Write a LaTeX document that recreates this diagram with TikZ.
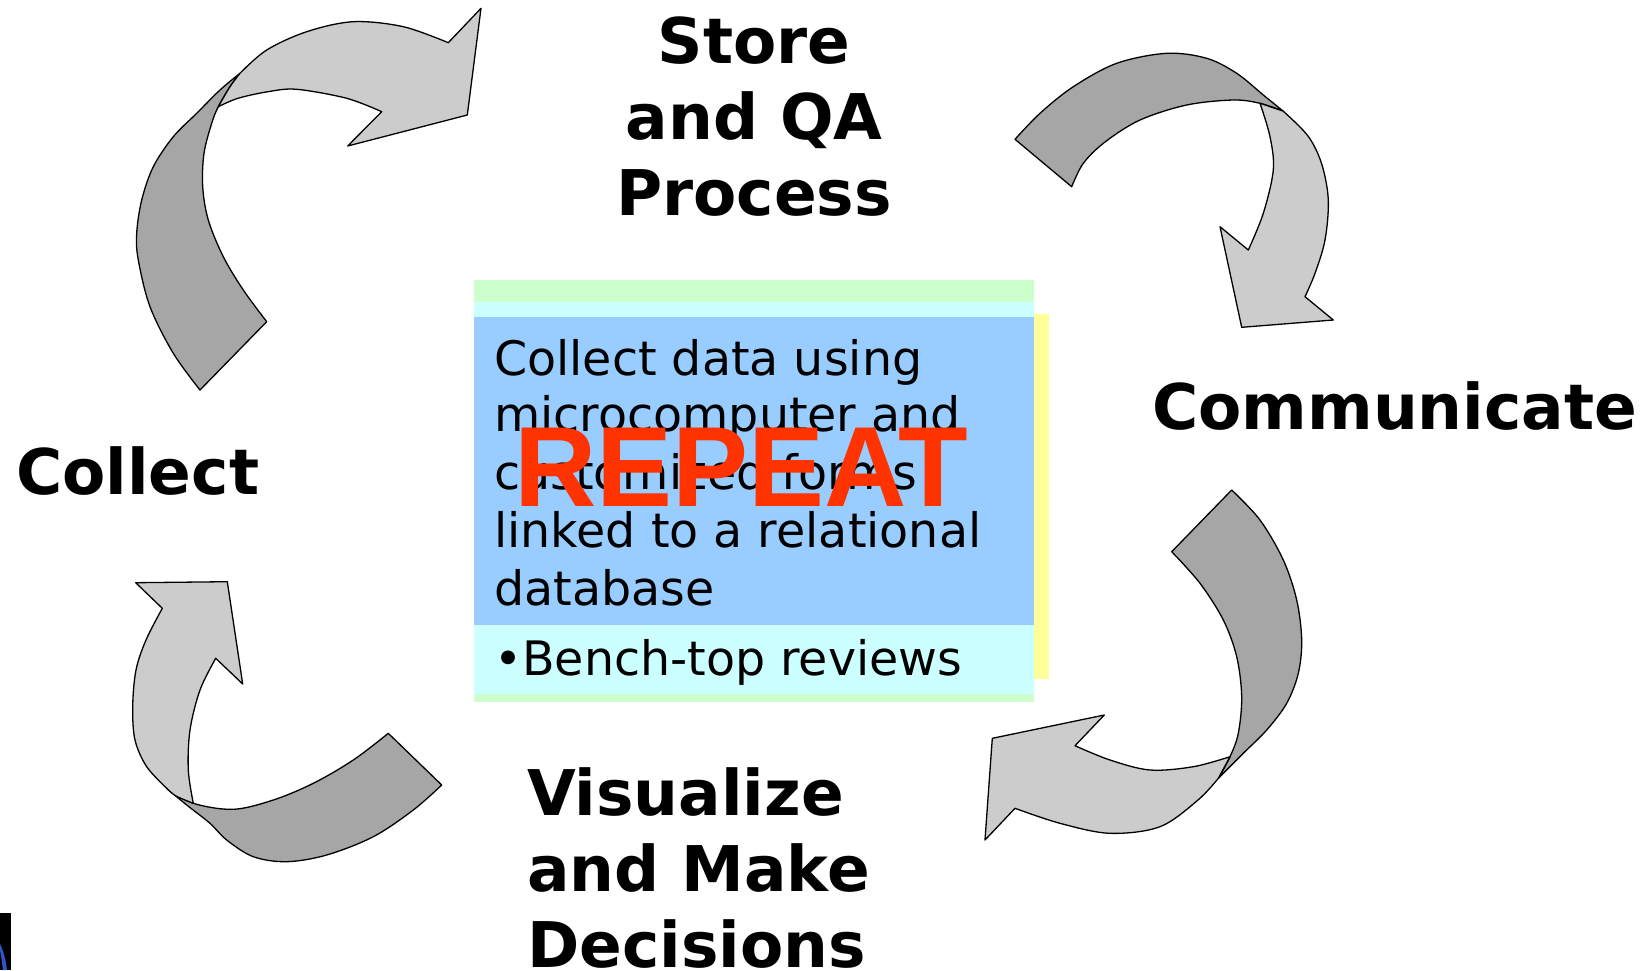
\documentclass[tikz,border=0pt]{standalone}
\usepackage{fontspec}
\newfontfamily\dejavu{DejaVu Sans}
\newfontfamily\libsans{Liberation Sans}
\definecolor{arrowdark}{HTML}{A6A6A6}
\definecolor{arrowlight}{HTML}{CCCCCC}
\definecolor{bandgreen}{HTML}{CCFFCC}
\definecolor{bandcyan}{HTML}{CCFFFF}
\definecolor{boxblue}{HTML}{99CCFF}
\definecolor{shadowyellow}{HTML}{FFFF99}
\definecolor{repeatred}{HTML}{FF3300}
\definecolor{logoblue}{HTML}{3355CC}
\begin{document}
\begin{tikzpicture}[x=1pt,y=-1pt,
  darkpart/.style={fill=arrowdark,draw=black,line width=1.3pt,line join=round},
  lightpart/.style={fill=arrowlight,draw=black,line width=1.3pt,line join=round},
  steplabel/.style={font=\dejavu\bfseries\fontsize{63}{76}\selectfont,inner sep=0pt},
  boxtext/.style={font=\dejavu\fontsize{47.5}{57.5}\selectfont,inner sep=0pt,anchor=base west},
  sm/.style={smooth,tension=0.55}]
\useasboundingbox (0,0) rectangle (1642,970);
\fill[white] (0,0) rectangle (1642,970);

% ---- central box ----
\fill[shadowyellow] (1034,314) rectangle (1049,679);
\fill[bandgreen] (474,280) rectangle (1034,302);
\fill[bandcyan] (474,302) rectangle (1034,317);
\fill[boxblue] (474,317) rectangle (1034,625);
\fill[bandcyan] (474,625) rectangle (1034,694);
\fill[bandgreen] (474,694) rectangle (1034,702);

\node[boxtext] (t1) at (494,375) {Collect data using};
\node[boxtext] (t2) at (494,431) {microcomputer and};
\node[boxtext] (t3) at (494,489) {customized forms};
\node[boxtext] (t4) at (494,547) {linked to a relational};
\node[boxtext] (t5) at (494,605) {database};
\node[boxtext] (t6) at (494,675) {•Bench-top reviews};

\node[font=\libsans\bfseries\fontsize{114}{114}\selectfont,text=repeatred,inner sep=0pt,anchor=base] (repeat) at (741,506) {REPEAT};

% ---- labels ----
\node[steplabel,anchor=base] (store1) at (754,63) {Store};
\node[steplabel,anchor=base] (store2) at (754,139) {and QA};
\node[steplabel,anchor=base] (store3) at (754,215) {Process};
\node[steplabel,anchor=base west] (comm) at (1152,429) {Communicate};
\node[steplabel,anchor=base west] (coll) at (16,494) {Collect};
\node[steplabel,anchor=base west] (vis1) at (527,815) {Visualize};
\node[steplabel,anchor=base west] (vis2) at (527,891) {and Make};
\node[steplabel,anchor=base west] (vis3) at (527,967) {Decisions};

% ---- arrow 1: Collect -> Store ----
\path[darkpart] plot[sm] coordinates {(200,390) (173.3,353.3) (150,306.7) (138.3,260) (136.7,233.3) (141.7,200) (153.3,166.7) (173.3,136.7) (196.7,113.3) (220,90) (240,73.3)}
  -- plot[sm] coordinates {(240,73.3) (230,86.7) (218.3,106.7) (211.7,123.3) (204,153.3) (202.7,186.7) (208.3,220) (223.3,256.7) (243.3,290) (266.7,321.7)}
  -- cycle;
\path[lightpart] plot[sm] coordinates {(240,73.3) (266.7,50) (306.7,31.7) (353.3,21.7) (403.3,26.7) (448.3,42.7)}
  -- (481,8.3) -- (467.3,115) -- (347.7,146) -- (381.7,111.7)
  -- plot[sm] coordinates {(381.7,111.7) (346.7,98.3) (296.7,89.3) (268,91.7) (238,98.3) (218.3,106.7)}
  -- plot[sm] coordinates {(218.3,106.7) (230,86.7) (240,73.3)}
  -- cycle;

% ---- arrow 2: Store -> Communicate ----
\path[darkpart] plot[sm] coordinates {(1015,139.3) (1040,113.3) (1073.3,86.7) (1116.7,63.3) (1166.7,53.3) (1206.7,58.3) (1236.7,73.3) (1263.3,95) (1283,111)}
  -- plot[sm] coordinates {(1283,111) (1260,103.3) (1233.3,100) (1186.7,105) (1140,120) (1105,142) (1083.3,163.3) (1071.7,186.7)}
  -- cycle;
\path[lightpart] plot[sm] coordinates {(1283,111) (1308,136) (1321.7,164) (1328.3,200) (1325,240) (1315,273.3) (1305,296.7)}
  -- (1333.3,320) -- (1241.7,327.3) -- (1220,226.7) -- (1248.3,250)
  -- plot[sm] coordinates {(1248.3,250) (1263.3,213.3) (1273.3,170) (1270,136.7) (1260,103.3)}
  -- (1283,111) -- cycle;

% ---- arrow 3: Communicate -> Visualize ----
\path[darkpart] plot[sm] coordinates {(1231.7,490) (1260,520) (1283.3,560) (1296.7,600) (1301.7,640) (1298.3,673.3) (1286.7,703.3) (1266.7,730) (1243.3,753.3) (1218.3,778.3)}
  -- plot[sm] coordinates {(1218.3,778.3) (1230,756.7) (1238.3,733.3) (1241.7,696.7) (1236.7,656.7) (1223.3,620) (1200,583.3) (1171.7,551.7)}
  -- cycle;
\path[lightpart] plot[sm] coordinates {(1218.3,778.3) (1198,800) (1160,826.7) (1110,833.3) (1060,823.3) (1015,808.3)}
  -- (985,840) -- (992.3,738.3) -- (1104.3,715) -- (1075,745.7)
  -- plot[sm] coordinates {(1075,745.7) (1110,760) (1150,770) (1193.3,766.7) (1230,756.7)}
  -- (1218.3,778.3) -- cycle;

% ---- arrow 4: Visualize -> Collect ----
\path[darkpart] plot[sm] coordinates {(388.3,733.3) (353.3,760) (313.3,783.3) (273.3,800) (233.3,809.3) (193.3,803.3) (166.7,788.3)}
  -- plot[sm] coordinates {(166.7,788.3) (186.7,805) (210,823.3) (226.7,840) (253.3,856.7) (286.7,861.7) (326.7,855) (373.3,836.7) (413.3,810) (441.7,785)}
  -- cycle;
\path[lightpart] plot[sm] coordinates {(166.7,788.3) (146.7,766.7) (135,740) (132.7,706.7) (136,670) (146,640) (162.3,608.3)}
  -- (135.7,582.7) -- (227.3,581.7) -- (242.7,684) -- (215.7,658.3)
  -- plot[sm] coordinates {(215.7,658.3) (200,690) (190,730) (188.3,770) (193.3,803.3)}
  -- plot[sm] coordinates {(193.3,803.3) (176,796) (166.7,788.3)}
  -- cycle;

% ---- logo fragment bottom-left ----
\fill[black] (0,913) rectangle (11,970);
\fill[logoblue] (0,944) .. controls (4,952) and (6,962) .. (7,970) -- (3,970) .. controls (2,962) and (1,955) .. (0,950) -- cycle;
\end{tikzpicture}
\end{document}
